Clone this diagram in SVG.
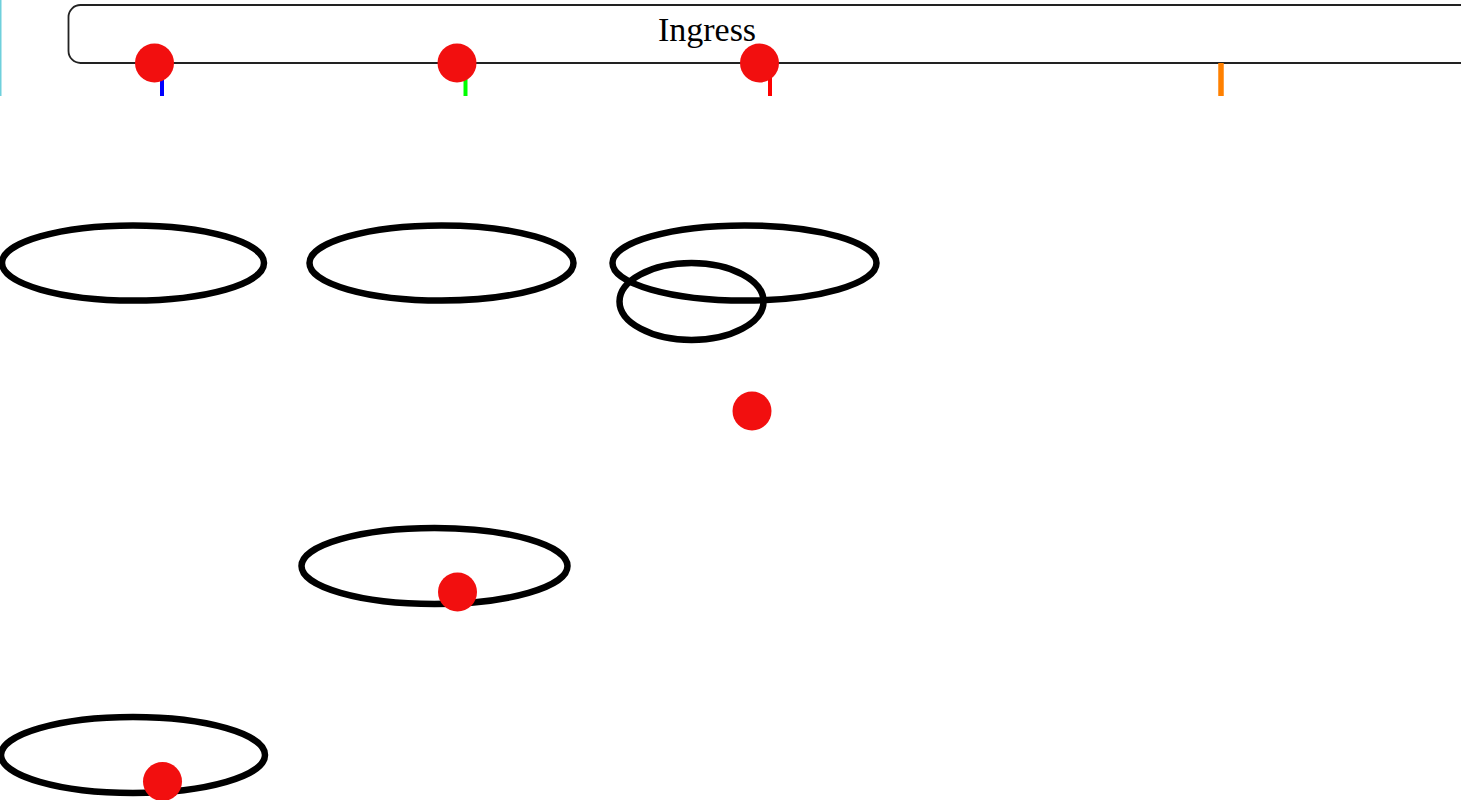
<svg xmlns="http://www.w3.org/2000/svg" width="1461" height="800" viewBox="0 0 1461 800">
<style>
.ell{fill:none;stroke:#000;stroke-width:6.5}
.dot{fill:#f20f0f}
.tick{stroke-width:4;fill:none}
.lbl{font-family:"Liberation Serif","DejaVu Serif",serif;font-size:34px;fill:#000;text-anchor:middle}
</style>
<rect width="1461" height="800" fill="#fff"/>
<line x1="0.75" y1="0" x2="0.75" y2="96" stroke="#6fd0dc" stroke-width="1.5"/>
<g id="ingress">
<rect x="68.5" y="5" width="1450" height="58" rx="12" fill="#fff" stroke="#222" stroke-width="1.8"/>
<text class="lbl" x="707" y="41">Ingress</text>
</g>
<g id="connectors">
<line class="tick" x1="162" y1="63" x2="162" y2="96" stroke="#0000ff"/>
<line class="tick" x1="465.5" y1="63" x2="465.5" y2="96" stroke="#00ff00"/>
<line class="tick" x1="770" y1="63" x2="770" y2="96" stroke="#ff0000"/>
<line x1="1221" y1="63" x2="1221" y2="96" stroke="#ff8000" stroke-width="5.5"/>
</g>
<g id="node1"><ellipse class="ell" cx="133" cy="263" rx="131" ry="37.5"/></g>
<g id="node2"><ellipse class="ell" cx="441.5" cy="263" rx="132" ry="37.5"/></g>
<g id="node3"><ellipse class="ell" cx="744.5" cy="263" rx="132" ry="37.5"/></g>
<g id="node4"><ellipse class="ell" cx="691.5" cy="301.5" rx="72" ry="38.5"/></g>
<g id="node5"><ellipse class="ell" cx="434.5" cy="566" rx="133" ry="38"/></g>
<g id="node6"><ellipse class="ell" cx="133" cy="755" rx="132" ry="38"/></g>
<g id="dots">
<circle class="dot" cx="154.5" cy="63" r="19.5"/>
<circle class="dot" cx="457" cy="63" r="19.5"/>
<circle class="dot" cx="759.5" cy="63" r="19.5"/>
<circle class="dot" cx="752" cy="411" r="19.5"/>
<circle class="dot" cx="457.5" cy="592" r="19.5"/>
<circle class="dot" cx="162.5" cy="781.5" r="19.5"/>
</g>
</svg>
